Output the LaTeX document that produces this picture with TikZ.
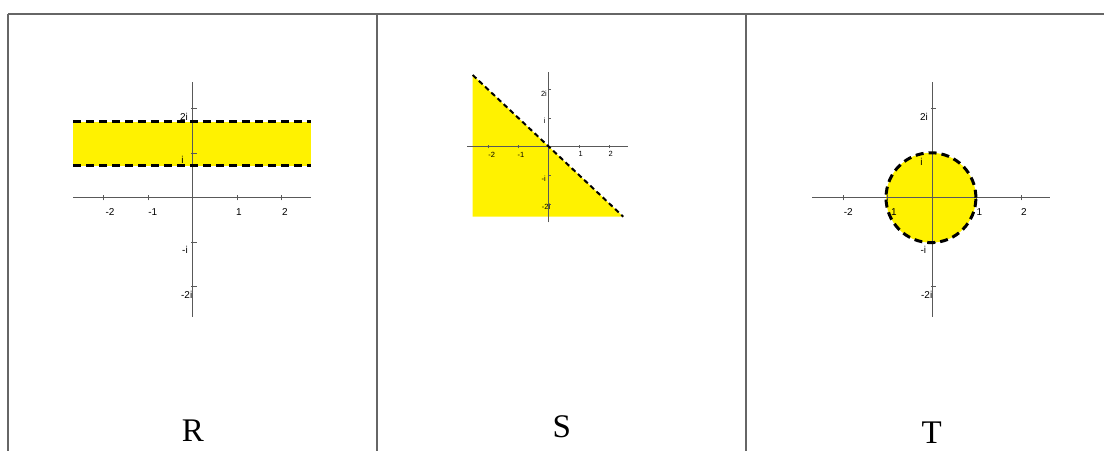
\documentclass[tikz,border=0pt]{standalone}
\usepackage{fontspec}
\setmainfont{Liberation Serif}
\newfontfamily\axisfont{Liberation Sans}

\begin{document}
\begin{tikzpicture}[x=1pt,y=-1pt,
  rule/.style={draw=black!60,line width=1.3pt},
  axis/.style={draw=black!65,line width=1pt},
  region/.style={fill=yellow},
  border/.style={draw=black,line width=2.7pt,dash pattern=on 8pt off 5pt},
  tlabel/.style={font=\axisfont\fontsize{10}{12}\selectfont,inner sep=0pt,text=black},
  slabel/.style={tlabel,font=\axisfont\fontsize{7.5}{9}\selectfont},
  letter/.style={font=\fontsize{33}{36}\selectfont,inner sep=0pt}]
\useasboundingbox (0,0) rectangle (1104,451);

% table rules
\draw[rule] (8,14) -- (1104,14);
\foreach \x in {8,377,746}
  \draw[rule] (\x,14) -- (\x,451);

% panel R: strip
\begin{scope}[shift={(192.5pt,-197.7pt)},x=44.5pt,y=44.5pt]
  \fill[region] (-2.68,0.72) rectangle (2.66,1.71);
  \draw[axis] (-2.68,0) -- (2.66,0);
  \draw[axis] (0,-2.67) -- (0,2.6);
  \foreach \t in {-2,-1,1,2} {
    \draw[axis] (\t,-0.06) -- (\t,0.06);
    \draw[axis] (-0.03,\t) -- (0.09,\t);
  }
  \foreach \px/\py/\txt [count=\k] in {-1.854/-0.315/-2, -0.894/-0.315/-1, 1.045/-0.315/1, 2.079/-0.315/2,
      -0.191/1.820/2i, -0.227/0.847/i, -0.169/-1.175/-i, -0.130/-2.187/-2i}
    \node[tlabel] (r-\k) at (\px,\py) {\txt};
  \draw[border] (-2.68,1.71) -- (2.66,1.71);
  \draw[border] (-2.68,0.72) -- (2.66,0.72);
\end{scope}

% panel S: half plane
\begin{scope}[shift={(548.7pt,-146.7pt)},x=30.2pt,y=28.7pt]
  \fill[region] (-2.517,2.498) -- (-2.517,-2.439) -- (2.470,-2.439) -- cycle;
  \draw[axis,line width=0.8pt] (-2.695,0) -- (2.636,0);
  \draw[axis,line width=0.8pt] (0,-2.634) -- (0,2.613);
  \foreach \t in {-2,-1,1,2} {
    \draw[axis,line width=0.7pt] (\t,-0.06) -- (\t,0.06);
    \draw[axis,line width=0.7pt] (-0.03,\t) -- (0.09,\t);
  }
  \foreach \px/\py/\txt [count=\k] in {-1.887/-0.289/-2, -0.917/-0.289/-1, 1.060/-0.265/1, 2.053/-0.265/2,
      -0.156/1.861/2i, -0.132/0.895/i, -0.166/-1.101/-i, -0.089/-2.091/-2i}
    \node[slabel] (s-\k) at (\px,\py) {\txt};
  \draw[border,line width=2pt,dash pattern=on 5pt off 3.5pt] (-2.517,2.498) -- (2.470,-2.439);
\end{scope}

% panel T: disc
\begin{scope}[shift={(932.3pt,-197.7pt)},x=44.5pt,y=44.5pt]
  \fill[region] (-0.03,0) circle (1.01);
  \draw[axis] (-2.70,0) -- (2.64,0);
  \draw[axis] (0,-2.67) -- (0,2.6);
  \foreach \t in {-2,-1,1,2} {
    \draw[axis] (\t,-0.06) -- (\t,0.06);
    \draw[axis] (-0.03,\t) -- (0.09,\t);
  }
  \foreach \px/\py/\txt [count=\k] in {-1.887/-0.315/-2, -0.861/-0.315/1, 1.056/-0.315/1, 2.060/-0.315/2,
      -0.187/1.820/2i, -0.243/0.809/i, -0.202/-1.175/-i, -0.126/-2.187/-2i}
    \node[tlabel] (t-\k) at (\px,\py) {\txt};
  \draw[border,line width=3pt] (-0.03,0) circle (1.01);
\end{scope}

% captions
\node[letter] (capR) at (193,431) {R};
\node[letter] (capS) at (561.8,427) {S};
\node[letter] (capT) at (931.8,432.5) {T};
\end{tikzpicture}
\end{document}
